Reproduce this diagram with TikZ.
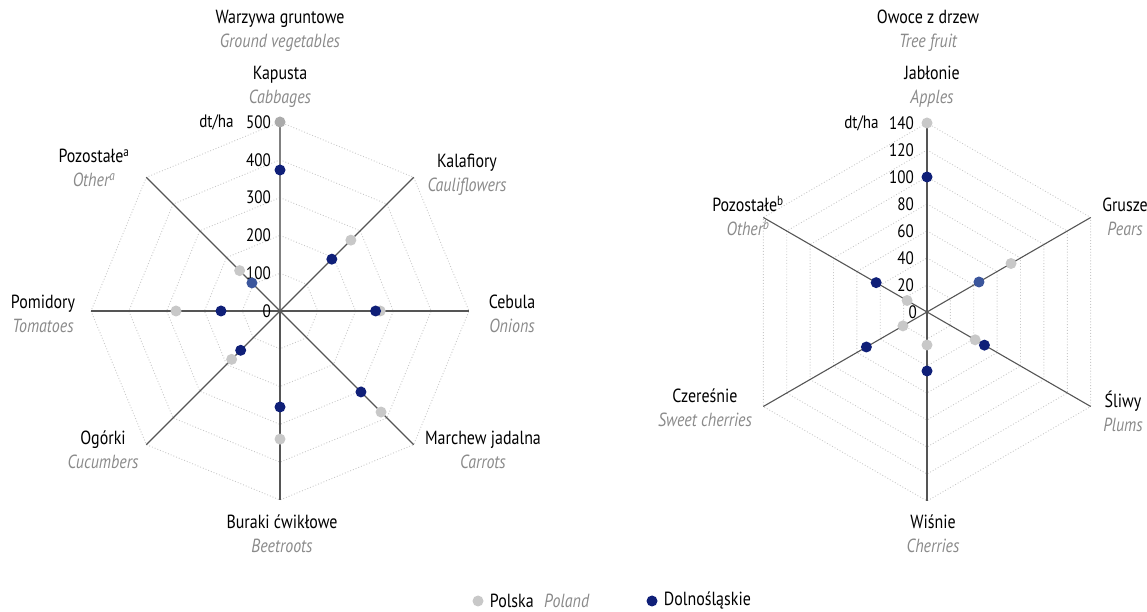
\documentclass[tikz,border=0pt]{standalone}
\usepackage{fontspec}
\setmainfont{PT Sans}[FakeStretch=0.84]
\usetikzlibrary{positioning}
\definecolor{granat}{HTML}{0F1F78}
\definecolor{granatj}{HTML}{3B569C}
\definecolor{szary}{HTML}{C8C8C8}
\definecolor{szaryc}{HTML}{ABABAB}
\definecolor{szarytxt}{HTML}{8A8A8A}
\definecolor{osie}{HTML}{555555}

\begin{document}
\begin{tikzpicture}[x=1pt,y=1pt]
\tikzset{os/.style={draw=osie, line width=1.1pt},
  siatka/.style={draw=szary, dotted, line width=0.9pt},
  pl/.style={circle, fill=szary, inner sep=0pt, minimum size=11pt},
  ds/.style={circle, fill=granat, inner sep=0pt, minimum size=11pt},
  etyk/.style={align=center, font=\fontsize{19}{24}\selectfont, inner sep=0pt},
  skala/.style={anchor=east, font=\fontsize{18}{20}\selectfont, inner sep=0pt}}
\newcommand{\ang}[1]{\textcolor{szarytxt}{\itshape #1}}
\useasboundingbox (0,0) rectangle (1147,612);

\begin{scope}[shift={(280,301)}]
\coordinate (S1) at (0,0);
\coordinate (K1) at (90:189);
\coordinate (K2) at (45:189);
\coordinate (K3) at (0:189);
\coordinate (K4) at (-45:189);
\coordinate (K5) at (-90:189);
\coordinate (K6) at (-135:189);
\coordinate (K7) at (180:189);
\coordinate (K8) at (135:189);
\draw[siatka] (90:37.8) -- (45:37.8) -- (0:37.8) -- (-45:37.8) -- (-90:37.8) -- (-135:37.8) -- (180:37.8) -- (135:37.8) -- cycle;
\draw[siatka] (90:75.6) -- (45:75.6) -- (0:75.6) -- (-45:75.6) -- (-90:75.6) -- (-135:75.6) -- (180:75.6) -- (135:75.6) -- cycle;
\draw[siatka] (90:113.4) -- (45:113.4) -- (0:113.4) -- (-45:113.4) -- (-90:113.4) -- (-135:113.4) -- (180:113.4) -- (135:113.4) -- cycle;
\draw[siatka] (90:151.2) -- (45:151.2) -- (0:151.2) -- (-45:151.2) -- (-90:151.2) -- (-135:151.2) -- (180:151.2) -- (135:151.2) -- cycle;
\draw[siatka] (K1) -- (K2) -- (K3) -- (K4) -- (K5) -- (K6) -- (K7) -- (K8) -- cycle;
\draw[os, draw=gray] (S1) -- (K1);
\draw[os] (S1) -- (K2);
\draw[os] (S1) -- (K3);
\draw[os] (S1) -- (K4);
\draw[os] (S1) -- (K5);
\draw[os] (S1) -- (K6);
\draw[os] (S1) -- (K7);
\draw[os] (S1) -- (K8);
\node[skala] (w0) at (-9,0) {0};
\node[skala] (w100) at (-9,37.8) {100};
\node[skala] (w200) at (-9,75.6) {200};
\node[skala] (w300) at (-9,113.4) {300};
\node[skala] (w400) at (-9,151.2) {400};
\node[skala] (w500) at (-9,189) {500};
\node[skala, left=12pt of w500] (jedn1) {dt/ha};
\node[pl, fill=szaryc] (p1) at (90:189) {};
\node[pl] (p2) at (45:100.2) {};
\node[pl] (p3) at (0:100.2) {};
\node[pl] (p4) at (-45:142.9) {};
\node[pl] (p5) at (-90:128.1) {};
\node[pl] (p6) at (-135:68.4) {};
\node[pl] (p7) at (180:104) {};
\node[pl] (p8) at (135:57.1) {};
\node[ds] (d1) at (90:141) {};
\node[ds] (d2) at (45:73.3) {};
\node[ds] (d3) at (0:95.6) {};
\node[ds] (d4) at (-45:114.5) {};
\node[ds] (d5) at (-90:96) {};
\node[ds] (d6) at (-135:55.6) {};
\node[ds] (d7) at (180:59) {};
\node[ds, fill=granatj] (d8) at (135:39.7) {};
\end{scope}

\node[etyk] (tyt1) at (280,581) {Warzywa gruntowe\\\ang{Ground vegetables}};
\node[etyk] (kap) at (280,525) {Kapusta\\\ang{Cabbages}};
\node[etyk] (kal) at (467,437) {Kalafiory\\\ang{Cauliflowers}};
\node[etyk] (ceb) at (512,298) {Cebula\\\ang{Onions}};
\node[etyk] (mar) at (483,162) {Marchew jadalna\\\ang{Carrots}};
\node[etyk] (bur) at (282,78) {Buraki ćwikłowe\\\ang{Beetroots}};
\node[etyk] (ogo) at (103,162) {Ogórki\\\ang{Cucumbers}};
\node[etyk] (pom) at (43,298) {Pomidory\\\ang{Tomatoes}};
\node[etyk] (poz1) at (94,444) {Pozostałe\textsuperscript{a}\\\ang{Other\textsuperscript{a}}};

\begin{scope}[shift={(927,300)}]
\coordinate (S2) at (0,0);
\coordinate (J1) at (90:189);
\coordinate (J2) at (30:189);
\coordinate (J3) at (-30:189);
\coordinate (J4) at (-90:189);
\coordinate (J5) at (-150:189);
\coordinate (J6) at (150:189);
\draw[siatka] (90:27) -- (30:27) -- (-30:27) -- (-90:27) -- (-150:27) -- (150:27) -- cycle;
\draw[siatka] (90:54) -- (30:54) -- (-30:54) -- (-90:54) -- (-150:54) -- (150:54) -- cycle;
\draw[siatka] (90:81) -- (30:81) -- (-30:81) -- (-90:81) -- (-150:81) -- (150:81) -- cycle;
\draw[siatka] (90:108) -- (30:108) -- (-30:108) -- (-90:108) -- (-150:108) -- (150:108) -- cycle;
\draw[siatka] (90:135) -- (30:135) -- (-30:135) -- (-90:135) -- (-150:135) -- (150:135) -- cycle;
\draw[siatka] (90:162) -- (30:162) -- (-30:162) -- (-90:162) -- (-150:162) -- (150:162) -- cycle;
\draw[siatka] (J1) -- (J2) -- (J3) -- (J4) -- (J5) -- (J6) -- cycle;
\draw[os] (S2) -- (J1);
\draw[os] (S2) -- (J2);
\draw[os] (S2) -- (J3);
\draw[os] (S2) -- (J4);
\draw[os] (S2) -- (J5);
\draw[os] (S2) -- (J6);
\node[skala] (v0) at (-10,0) {0};
\node[skala] (v20) at (-13,27) {20};
\node[skala] (v40) at (-13,54) {40};
\node[skala] (v60) at (-13,81) {60};
\node[skala] (v80) at (-13,108) {80};
\node[skala] (v100) at (-13,135) {100};
\node[skala] (v120) at (-13,162) {120};
\node[skala] (v140) at (-13,189) {140};
\node[skala, left=10pt of v140] (jedn2) {dt/ha};
\node[pl] (q1) at (90:189) {};
\node[pl] (q2) at (30:97) {};
\node[pl] (q3) at (-30:55.6) {};
\node[pl] (q4) at (-90:33) {};
\node[pl] (q5) at (-150:27.8) {};
\node[pl] (q6) at (150:23) {};
\node[ds] (e1) at (90:135) {};
\node[ds, fill=granatj] (e2) at (30:60) {};
\node[ds] (e3) at (-30:66.3) {};
\node[ds] (e4) at (-90:59) {};
\node[ds] (e5) at (-150:70) {};
\node[ds] (e6) at (150:58.7) {};
\end{scope}

\node[etyk] (tyt2) at (928,581) {Owoce z drzew\\\ang{Tree fruit}};
\node[etyk] (jab) at (932,525) {Jabłonie\\\ang{Apples}};
\node[etyk] (gru) at (1125,395) {Grusze\\\ang{Pears}};
\node[etyk] (sli) at (1123,201) {Śliwy\\\ang{Plums}};
\node[etyk] (wis) at (933,78) {Wiśnie\\\ang{Cherries}};
\node[etyk] (cze) at (705,204) {Czereśnie\\\ang{Sweet cherries}};
\node[etyk] (poz2) at (748,396) {Pozostałe\textsuperscript{b}\\\ang{Other\textsuperscript{b}}};

\node[pl] (lpl) at (478,11) {};
\node[etyk, right=6pt of lpl] (lpltxt) {Polska};
\node[etyk, right=10pt of lpltxt] (lplen) {\ang{Poland}};
\node[ds] (lds) at (652,11) {};
\node[etyk, right=6pt of lds] (ldstxt) {Dolnośląskie};
\end{tikzpicture}
\end{document}
